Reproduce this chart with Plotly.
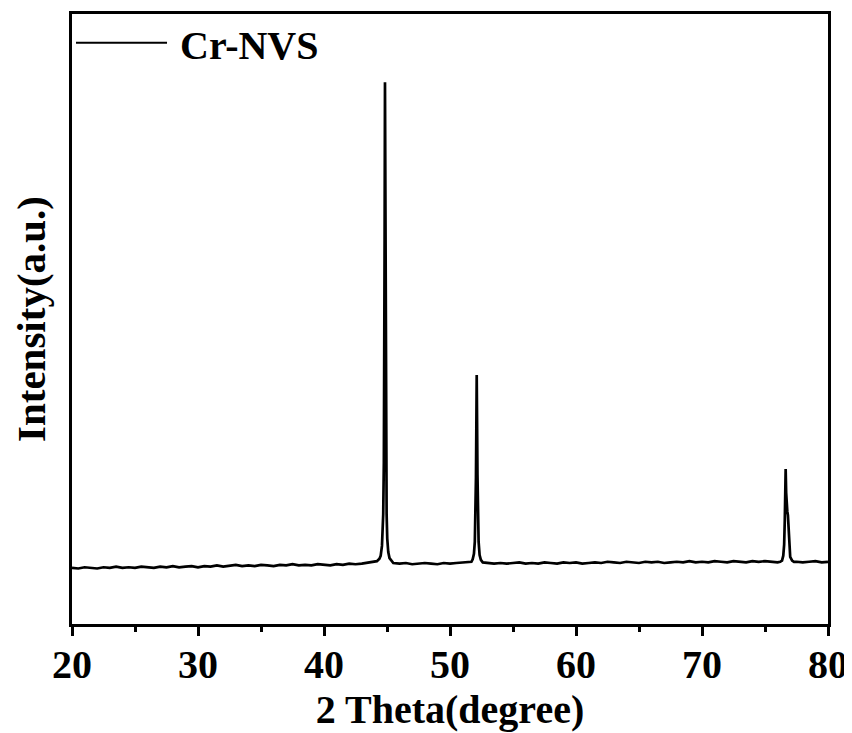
import plotly.graph_objects as go

# ---- data (2θ in degrees, intensity in arbitrary units) ----
base1_x = [20.0, 20.5, 21.0, 21.5, 22.0, 22.5, 23.0, 23.5, 24.0, 24.5, 25.0, 25.5, 26.0, 26.5,
           27.0, 27.5, 28.0, 28.5, 29.0, 29.5, 30.0, 30.5, 31.0, 31.5, 32.0, 32.5, 33.0, 33.5,
           34.0, 34.5, 35.0, 35.5, 36.0, 36.5, 37.0, 37.5, 38.0, 38.5, 39.0, 39.5, 40.0, 40.5,
           41.0, 41.5, 42.0, 42.5, 43.0, 43.5, 44.0]
base1_y = [92, 91, 93, 92, 91, 93, 92, 94, 92, 93, 92, 94, 93, 92,
           94, 93, 95, 93, 94, 95, 93, 95, 94, 96, 94, 95, 97, 95,
           96, 95, 97, 96, 95, 97, 96, 98, 96, 97, 96, 98, 97, 96,
           98, 97, 99, 98, 99, 101, 102]

peak1_x = [44.2, 44.4, 44.5, 44.6, 44.65, 44.7, 44.75, 44.78, 44.81, 44.84,
           44.87, 44.9, 44.93, 44.97, 45.02, 45.1, 45.2, 45.35]
peak1_y = [103, 107, 112, 128, 148, 180, 265, 390, 630, 888,
           640, 400, 265, 180, 140, 118, 108, 103]

base2_x = [45.5, 46.0, 46.5, 47.0, 47.5, 48.0, 48.5, 49.0, 49.5, 50.0, 50.5, 51.0, 51.5]
base2_y = [100, 99, 100, 98, 99, 100, 99, 98, 100, 99, 100, 101, 101]

peak2_x = [51.7, 51.8, 51.9, 51.97, 52.02, 52.06, 52.09, 52.12, 52.15, 52.18,
           52.22, 52.27, 52.35, 52.45]
peak2_y = [102, 106, 115, 135, 170, 240, 320, 408, 330, 245,
           170, 135, 113, 105]

base3_x = [52.6, 53.0, 53.5, 54.0, 54.5, 55.0, 55.5, 56.0, 56.5, 57.0, 57.5, 58.0, 58.5,
           59.0, 59.5, 60.0, 60.5, 61.0, 61.5, 62.0, 62.5, 63.0, 63.5, 64.0, 64.5, 65.0,
           65.5, 66.0, 66.5, 67.0, 67.5, 68.0, 68.5, 69.0, 69.5, 70.0, 70.5, 71.0, 71.5,
           72.0, 72.5, 73.0, 73.5, 74.0, 74.5, 75.0, 75.5, 76.0]
base3_y = [101, 100, 99, 100, 99, 100, 101, 99, 100, 99, 101, 100, 99,
           101, 100, 101, 99, 100, 101, 100, 102, 101, 100, 102, 101, 100,
           102, 101, 102, 100, 101, 102, 101, 103, 101, 102, 101, 103, 102,
           101, 103, 102, 101, 103, 102, 103, 102, 101]

peak3_x = [76.2, 76.35, 76.45, 76.52, 76.57, 76.61, 76.64, 76.68, 76.72, 76.77,
           76.82, 76.87, 76.92, 77.0, 77.15, 77.3]
peak3_y = [102, 104, 112, 130, 170, 220, 254, 215, 190, 185,
           178, 150, 125, 110, 104, 102]

base4_x = [77.5, 78.0, 78.5, 79.0, 79.5, 80.0]
base4_y = [102, 101, 102, 103, 101, 102]

series_name = "Cr-NVS"
x_ticks = [20, 30, 40, 50, 60, 70, 80]

two_theta = base1_x + peak1_x + base2_x + peak2_x + base3_x + peak3_x + base4_x
intensity = base1_y + peak1_y + base2_y + peak2_y + base3_y + peak3_y + base4_y

FONT = "Liberation Serif"

fig = go.Figure()
fig.add_trace(go.Scatter(
    x=two_theta, y=intensity, mode="lines", name=series_name,
    line=dict(color="black", width=2.7), showlegend=False,
))

# page body has an 8px margin: size/margins compensate so the plot lands where the reference has it
fig.update_layout(
    width=844, height=725,
    margin=dict(l=64, r=24, t=6, b=109),
    paper_bgcolor="white", plot_bgcolor="white",
    font=dict(family=FONT, color="black", size=40, weight="bold"),
    xaxis=dict(
        range=[20, 80], tickvals=x_ticks, ticktext=[str(v) for v in x_ticks],
        ticks="outside", ticklen=9, tickwidth=2.5, tickcolor="black",
        minor=dict(ticks="outside", ticklen=5, tickwidth=2.5, tickcolor="black", dtick=5),
        showline=True, linewidth=2.5, linecolor="black", mirror=True,
        showgrid=False, zeroline=False, automargin=False,
        ticklabelstandoff=-6,
        tickfont=dict(family=FONT, size=40, weight="bold"),
        title=dict(text="2 Theta(degree)", font=dict(family=FONT, size=40, weight="bold"),
                   standoff=9),
    ),
    yaxis=dict(
        range=[0, 1000], showticklabels=False, ticks="",
        showline=True, linewidth=2.5, linecolor="black", mirror=True,
        showgrid=False, zeroline=False, automargin=False,
        title=dict(text="Intensity(a.u.)", font=dict(family=FONT, size=41, weight="bold"),
                   standoff=14),
    ),
    shapes=[dict(type="line", xref="paper", yref="paper",
                 x0=0.0053, x1=0.1257, y0=0.953, y1=0.953,
                 line=dict(color="black", width=2))],
    annotations=[dict(text=series_name, xref="paper", yref="paper",
                      x=0.1402, y=0.949, xanchor="left", yanchor="middle",
                      showarrow=False,
                      font=dict(family=FONT, size=40, weight="bold", color="black"))],
)

fig.write_html("out.html")
